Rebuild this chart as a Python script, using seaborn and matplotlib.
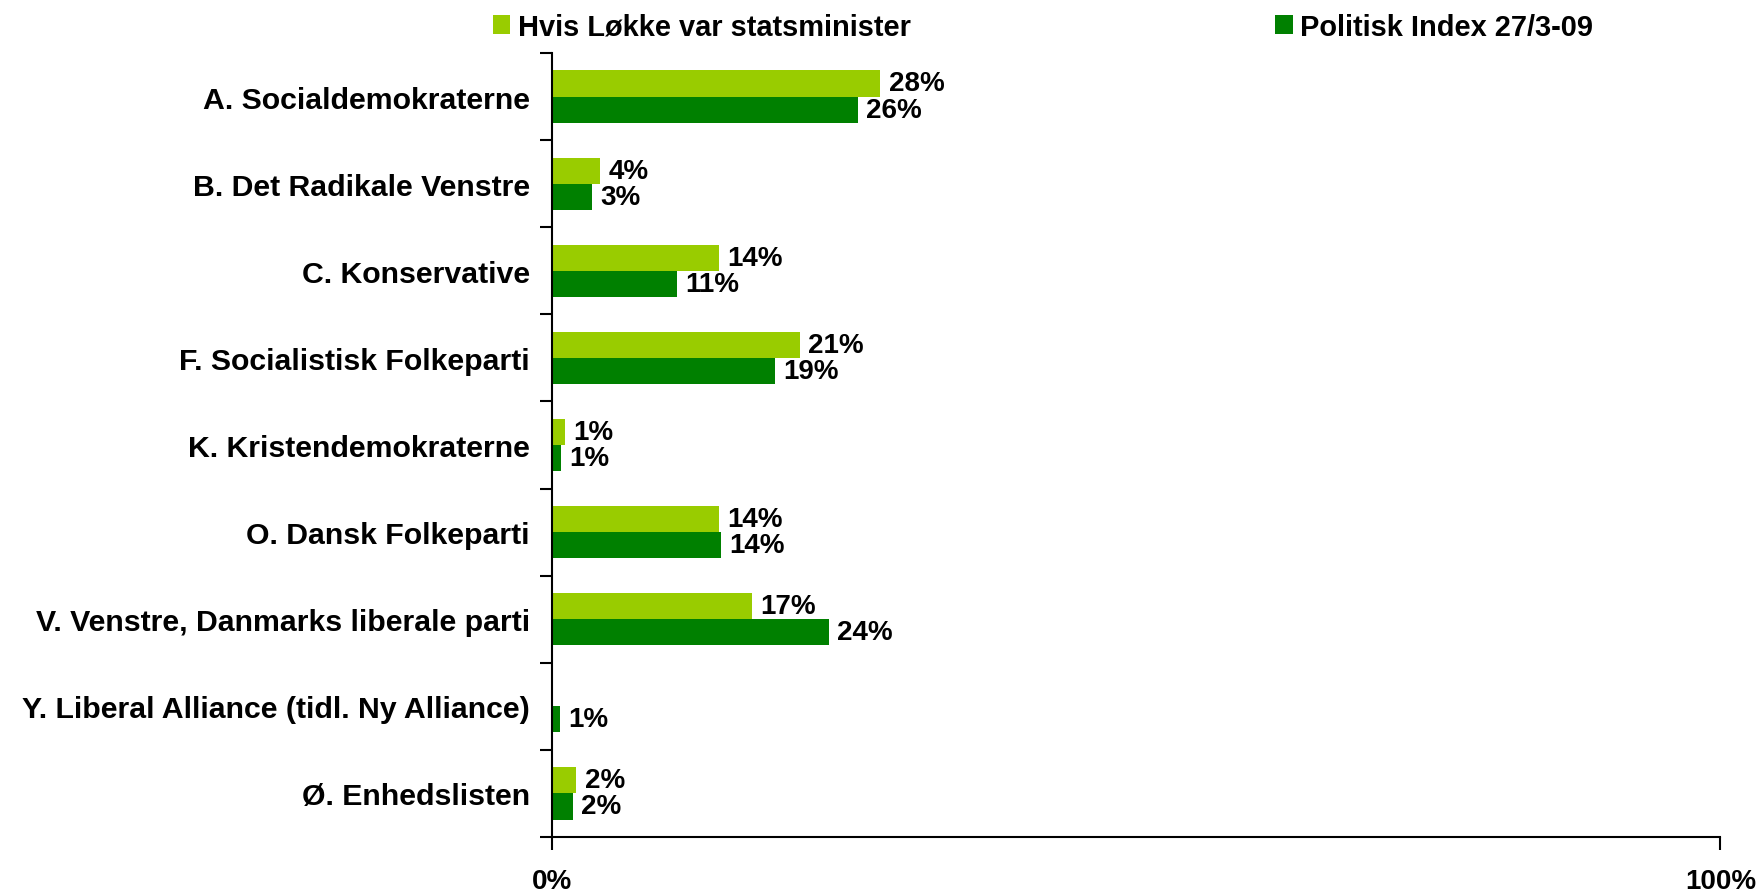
import pandas as pd
import matplotlib.pyplot as plt
import seaborn as sns
from matplotlib.patches import Patch

parties = ['A. Socialdemokraterne', 'B. Det Radikale Venstre', 'C. Konservative',
           'F. Socialistisk Folkeparti', 'K. Kristendemokraterne', 'O. Dansk Folkeparti',
           'V. Venstre, Danmarks liberale parti', 'Y. Liberal Alliance (tidl. Ny Alliance)',
           'Ø. Enhedslisten']
loekke = [28.1, 4.1, 14.3, 21.2, 1.1, 14.3, 17.1, 0.0, 2.1]
index_0903 = [26.2, 3.4, 10.7, 19.1, 0.8, 14.5, 23.7, 0.7, 1.8]
series = ['Hvis Løkke var statsminister', 'Politisk Index 27/3-09']
colors = ['#99CC00', '#008000']

df = pd.DataFrame({
    'party': parties * 2,
    'value': loekke + index_0903,
    'series': [series[0]] * len(parties) + [series[1]] * len(parties),
})

sns.set_style('white')
plt.rcParams['font.family'] = ['Liberation Sans', 'DejaVu Sans']
plt.rcParams['font.weight'] = 'bold'
plt.rcParams['text.color'] = 'black'
plt.rcParams['xtick.color'] = 'black'
plt.rcParams['ytick.color'] = 'black'
fs = 20

fig = plt.figure(figsize=(17.65, 8.95), dpi=100)
ax = fig.add_axes([0.3127, 0.0637, 0.662, 0.876])

sns.barplot(data=df, y='party', x='value', hue='series', orient='h',
            palette=colors, width=0.6, saturation=1, linewidth=0, ax=ax, legend=False)

for cont, vals in zip(ax.containers, [loekke, index_0903]):
    ax.bar_label(cont, labels=[f'{v:.0f}%' if v > 0 else '' for v in vals],
                 padding=6, fontsize=fs, fontweight='bold', color='black')

ax.set_xlim(0, 100)
ax.set_ylim(len(parties) - 0.5, -0.5)
ax.set_xticks([0, 100])
ax.set_xticklabels(['0%', '100%'], fontsize=fs, fontweight='bold')
ax.set_xlabel('')
ax.set_ylabel('')
ax.tick_params(axis='y', which='major', length=0, pad=16, labelsize=21.8)
ax.set_yticks([i + 0.5 for i in range(-1, len(parties))], minor=True)
ax.tick_params(axis='y', which='minor', length=9, width=1.5, direction='out', left=True)
ax.tick_params(axis='x', which='major', length=9, width=1.5, direction='out', pad=13, bottom=True)
for lbl in ax.get_yticklabels():
    lbl.set_fontweight('bold')

sns.despine(ax=ax)
for s in ['left', 'bottom']:
    ax.spines[s].set_linewidth(1.5)
    ax.spines[s].set_color('black')

for x0, c, name in zip([0.2793, 0.7226], colors, series):
    fig.legend([Patch(facecolor=c, edgecolor='none')], [name], loc='center left',
               bbox_to_anchor=(x0, 0.969), frameon=False, borderpad=0, borderaxespad=0,
               handlelength=0.6, handleheight=0.6, handletextpad=0.25,
               prop={'weight': 'bold', 'size': 20.9})

fig.savefig('out.png', dpi=100)
